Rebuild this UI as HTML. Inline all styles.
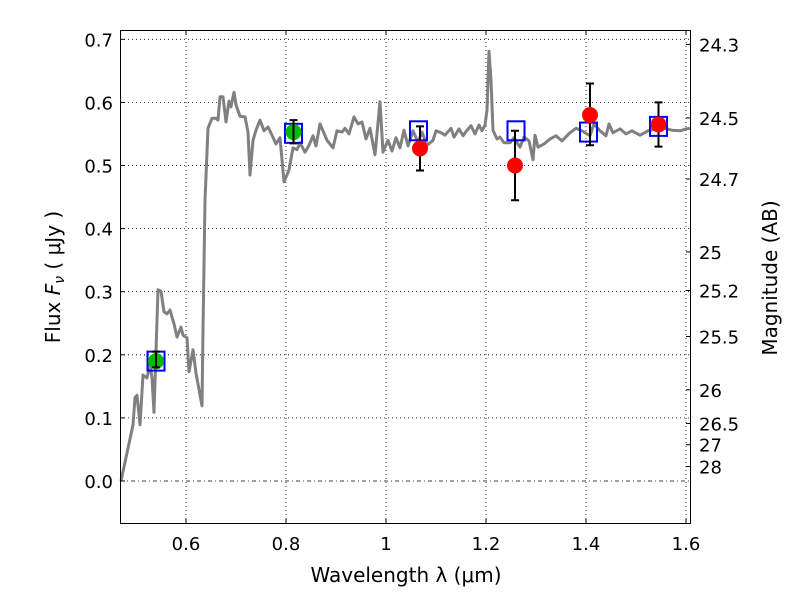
<!DOCTYPE html>
<html><head><meta charset="utf-8"><style>
body{margin:0;background:#fff}
svg text{font-family:"DejaVu Sans","Liberation Sans",sans-serif;fill:#000}
</style></head><body>
<svg id="chart" width="800" height="600" xmlns="http://www.w3.org/2000/svg">
<g id="grid"></g>
<g id="spec"></g>
<g id="marks"></g>
<rect x="120.5" y="30.5" width="570" height="493" fill="none" stroke="#000" stroke-width="1"/>
<g id="axes"></g>
<text x="406" y="582" font-size="20" text-anchor="middle">Wavelength  λ (μm)</text>
<text transform="translate(60,277) rotate(-90)" font-size="20" text-anchor="middle">Flux  <tspan font-style="italic">F</tspan><tspan font-style="italic" font-size="14" dy="4">ν</tspan><tspan dy="-4">  ( μJy )</tspan></text>
<text transform="translate(777,278) rotate(-90)" font-size="20" text-anchor="middle">Magnitude (AB)</text>
</svg>
<script>
const specLam=[0.470,0.494,0.498,0.502,0.508,0.514,0.522,0.528,0.532,0.536,0.544,0.550,0.556,0.562,0.568,0.576,0.582,0.590,0.594,0.602,0.606,0.614,0.620,0.632,0.634,0.638,0.644,0.652,0.660,0.664,0.668,0.674,0.680,0.686,0.690,0.696,0.700,0.708,0.718,0.724,0.728,0.734,0.740,0.748,0.756,0.764,0.772,0.780,0.788,0.796,0.806,0.814,0.822,0.828,0.838,0.846,0.854,0.860,0.868,0.882,0.894,0.902,0.912,0.918,0.926,0.936,0.944,0.952,0.960,0.968,0.978,0.988,0.994,1.004,1.012,1.020,1.028,1.036,1.044,1.054,1.064,1.072,1.082,1.094,1.100,1.110,1.118,1.130,1.136,1.146,1.154,1.162,1.170,1.178,1.186,1.192,1.198,1.202,1.206,1.210,1.214,1.222,1.228,1.236,1.248,1.256,1.268,1.276,1.286,1.294,1.298,1.304,1.316,1.328,1.340,1.352,1.368,1.380,1.392,1.408,1.416,1.428,1.440,1.446,1.454,1.468,1.480,1.492,1.508,1.524,1.540,1.556,1.572,1.588,1.600,1.610];
const specFlux=[0.000,0.089,0.132,0.136,0.089,0.168,0.163,0.185,0.163,0.109,0.303,0.301,0.268,0.265,0.271,0.249,0.228,0.244,0.231,0.227,0.173,0.208,0.171,0.119,0.239,0.445,0.559,0.575,0.575,0.572,0.609,0.609,0.569,0.602,0.593,0.616,0.596,0.578,0.577,0.553,0.485,0.540,0.556,0.572,0.555,0.561,0.548,0.534,0.544,0.474,0.493,0.528,0.525,0.536,0.521,0.532,0.547,0.531,0.566,0.540,0.528,0.555,0.553,0.559,0.550,0.577,0.566,0.569,0.542,0.559,0.517,0.601,0.521,0.540,0.523,0.544,0.528,0.556,0.531,0.555,0.537,0.553,0.532,0.540,0.555,0.552,0.548,0.559,0.545,0.558,0.547,0.556,0.563,0.550,0.564,0.555,0.564,0.588,0.681,0.635,0.556,0.542,0.545,0.536,0.536,0.544,0.529,0.545,0.539,0.509,0.548,0.529,0.534,0.542,0.547,0.539,0.552,0.559,0.555,0.547,0.566,0.555,0.547,0.566,0.552,0.558,0.550,0.555,0.548,0.555,0.558,0.559,0.556,0.555,0.558,0.559];
const modelLam=[0.54,0.815,1.065,1.26,1.405,1.545];
const modelFlux=[0.190,0.551,0.555,0.555,0.553,0.562];
const greenLam=[0.54,0.815];
const greenFlux=[0.190,0.553];
const greenLo=[0.180,0.535];
const greenHi=[0.205,0.572];
const redLam=[1.068,1.258,1.408,1.545];
const redFlux=[0.527,0.500,0.580,0.565];
const redLo=[0.492,0.445,0.532,0.530];
const redHi=[0.562,0.555,0.630,0.600];
const xTicks=[0.6,0.8,1.0,1.2,1.4,1.6];
const xTickLabels=["0.6","0.8","1","1.2","1.4","1.6"];
const yTicks=[0.0,0.1,0.2,0.3,0.4,0.5,0.6,0.7];
const yTickLabels=["0.0","0.1","0.2","0.3","0.4","0.5","0.6","0.7"];
const magTicks=[24.3,24.5,24.7,25,25.2,25.5,26,26.5,27,28];
const magLabels=["24.3","24.5","24.7","25","25.2","25.5","26","26.5","27","28"];

const NS="http://www.w3.org/2000/svg";
const X=v=>186+(v-0.6)*500;
const Y=v=>481-v*631;
function mk(parent,tag,attrs){const e=document.createElementNS(NS,tag);for(const k in attrs)e.setAttribute(k,attrs[k]);parent.appendChild(e);return e;}
const grid=document.getElementById('grid'),axes=document.getElementById('axes');
xTicks.forEach((t,i)=>{const x=X(t);
 let g=mk(grid,'line',{x1:x,x2:x,y1:30,y2:524,stroke:'#000','stroke-width':0.8,'stroke-dasharray':'1,3'});
 
 let tk=mk(axes,'line',{x1:x,x2:x,y1:524,y2:519,stroke:'#000'});
 
 let tk2=mk(axes,'line',{x1:x,x2:x,y1:30,y2:35,stroke:'#000'});
 
 let tx=mk(axes,'text',{x:x,y:550,'font-size':18,'text-anchor':'middle'});tx.textContent=xTickLabels[i];
 
});
yTicks.forEach((t,i)=>{const y=Y(t);
 let g=mk(grid,'line',{x1:120,x2:691,y1:y,y2:y,stroke:'#000','stroke-width':0.8,'stroke-dasharray':t===0?'4,3,1,3':'1,3'});
 
 let tk=mk(axes,'line',{x1:120,x2:125,y1:y,y2:y,stroke:'#000'});
 
 let tx=mk(axes,'text',{x:113,y:y+7,'font-size':18,'text-anchor':'end'});tx.textContent=yTickLabels[i];
 
});
magTicks.forEach((m,i)=>{const y=Y(Math.pow(10,-0.4*(m-23.9)));
 let tk=mk(axes,'line',{x1:691,x2:686,y1:y,y2:y,stroke:'#000'});
 
 let tx=mk(axes,'text',{x:699,y:y+7,'font-size':18});tx.textContent=magLabels[i];
 
});
const spec=document.getElementById('spec');
let d=specLam.map((l,i)=>(i?'L':'M')+X(l).toFixed(1)+','+Y(specFlux[i]).toFixed(1)).join(' ');
let p=mk(spec,'path',{d:d,fill:'none',stroke:'#808080','stroke-width':3,'stroke-linejoin':'round'});

const marks=document.getElementById('marks');
function errbar(x,lo,hi){
 let g=mk(marks,'path',{d:`M${x},${Y(lo)}V${Y(hi)}M${x-4},${Y(lo)}h8M${x-4},${Y(hi)}h8`,stroke:'#000','stroke-width':2,fill:'none'});
 
}
modelLam.forEach((l,i)=>{
 let r=mk(marks,'rect',{x:X(l)-8.5,y:Y(modelFlux[i])-9.5,width:17,height:19,fill:'none',stroke:'#0000ff','stroke-width':2});
 
});
greenLam.forEach((l,i)=>{
 let c=mk(marks,'circle',{cx:X(l),cy:Y(greenFlux[i]),r:8,fill:'#00bb00'});
 
 errbar(X(l),greenLo[i],greenHi[i]);
});
redLam.forEach((l,i)=>{
 errbar(X(l),redLo[i],redHi[i]);
 let c=mk(marks,'circle',{cx:X(l),cy:Y(redFlux[i]),r:8,fill:'#ff0000'});
 
});
</script>
</body></html>
